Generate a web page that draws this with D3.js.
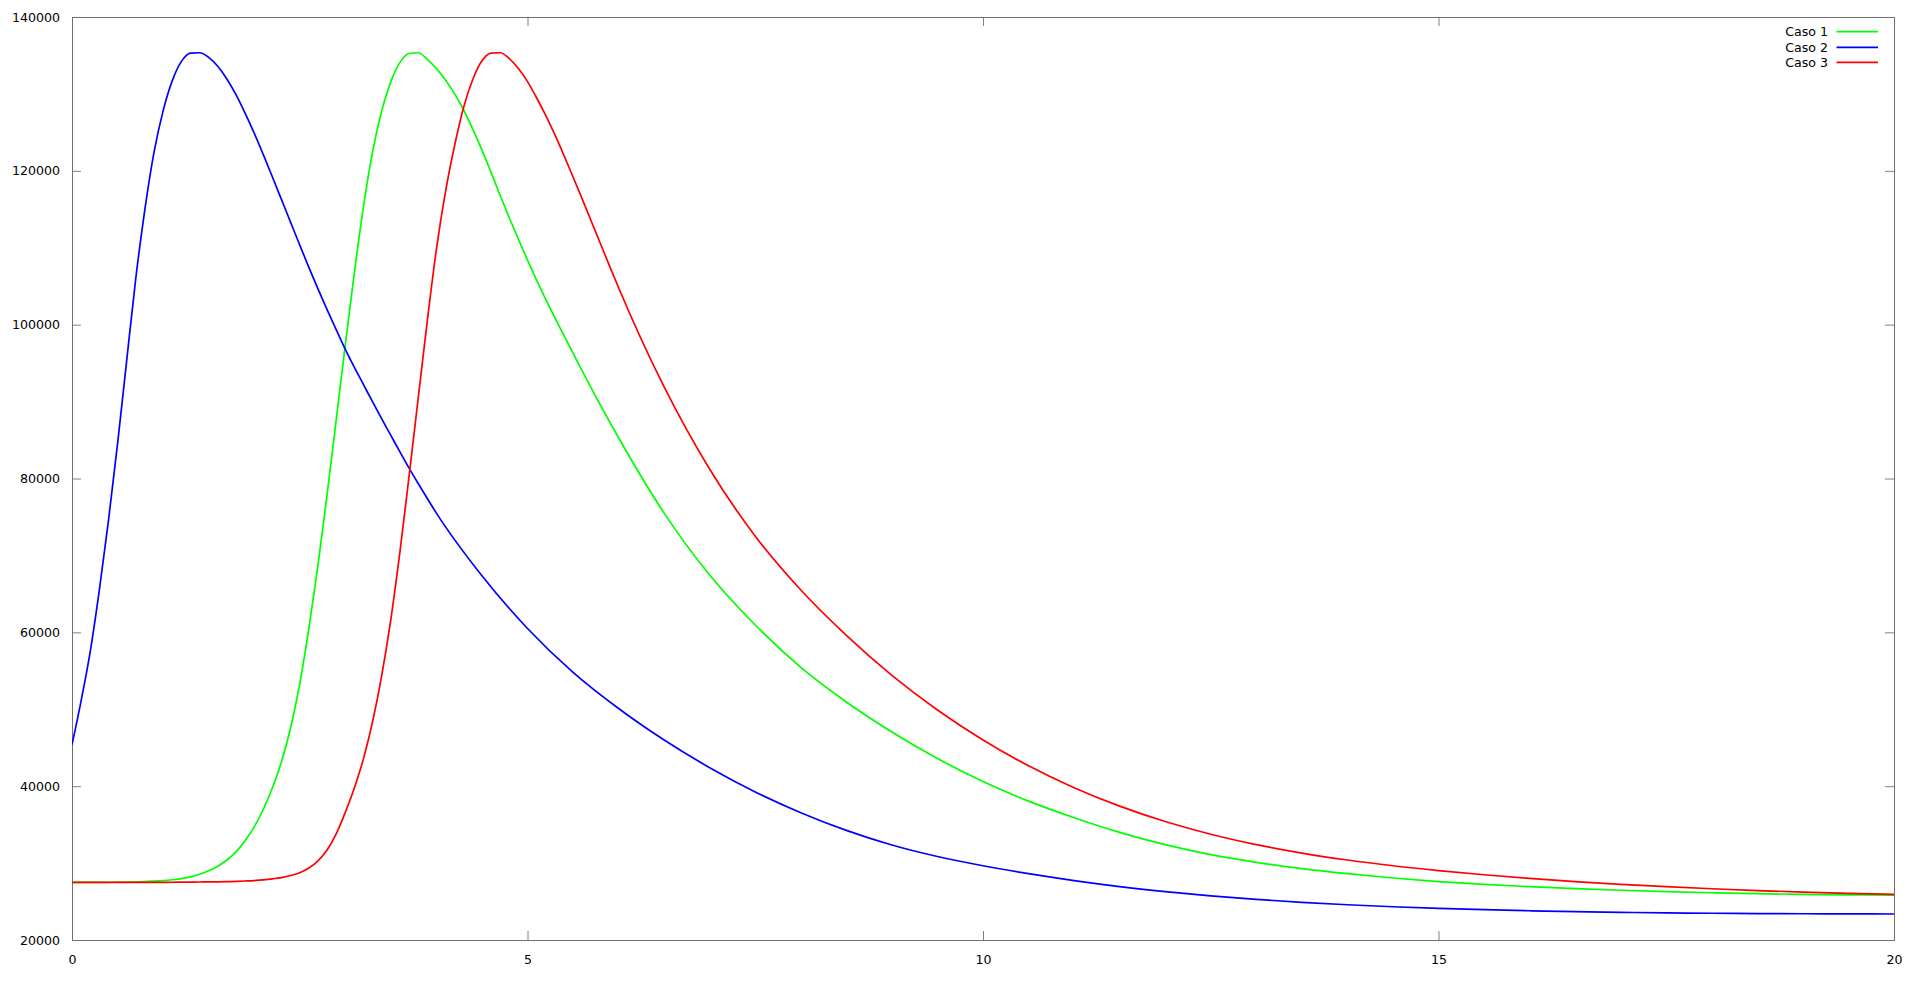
<!DOCTYPE html>
<html>
<head>
<meta charset="utf-8">
<script src="https://cdn.jsdelivr.net/npm/d3@7"></script>
<style>
  html, body { margin: 0; padding: 0; background: #fff; }
  svg { display: block; }
  text { font-family: "DejaVu Sans", sans-serif; }
</style>
</head>
<body>
<svg id="chart" width="1920" height="996"></svg>
<script>
// ---- Data ----
const seriesNames = ["Caso 1", "Caso 2", "Caso 3"];
const seriesColors = ["#00ff00", "#0000ff", "#ff0000"];

const xTicks = [0, 5, 10, 15, 20];
const yTicks = [20000, 40000, 60000, 80000, 100000, 120000, 140000];

// Caso 1 (green)
const caso1X = [0,0.1,0.2,0.3,0.4,0.5,0.6,0.7,0.8,0.9,1.0,1.1,1.2,1.3,1.4,1.5,1.6,1.7,1.8,1.9,
  2.0,2.1,2.2,2.3,2.4,2.5,2.6,2.7,2.8,2.9,3.0,3.1,3.2,3.3,3.4,3.5,3.6,3.7,3.8,3.9,
  4.0,4.1,4.2,4.3,4.4,4.5,4.6,4.7,4.8,4.9,5.0,5.1,5.2,5.3,5.4,5.5,5.6,5.7,5.8,5.9,6.0,
  6.5,7.0,7.5,8.0,8.5,9.0,9.5,10.0,10.5,11.0,11.5,12.0,12.5,13.0,13.5,14.0,14.5,15.0,
  15.5,16.0,16.5,17.0,17.5,18.0,18.5,19.0,19.5,20.0];
const caso1Y = [27500,27500,27500,27500,27505,27515,27530,27560,27600,27650,27720,27830,27980,28200,28550,29000,29600,30400,31450,32900,
  34700,37000,39800,43200,47600,53300,60500,68700,77900,87600,97400,106800,115400,122500,127800,131600,134100,135250,135350,134500,
  133300,131800,130000,127900,125400,122700,119800,116800,113900,111100,108400,105800,103300,100900,98600,96300,94000,91750,89550,87400,85300,
  75500,67450,60950,55450,50950,47050,43600,40600,38050,35900,34000,32400,31100,30100,29280,28620,28060,27600,
  27230,26930,26680,26470,26290,26140,26020,25930,25870,25840];

// Caso 2 (blue)
const caso2X = [0,0.1,0.2,0.3,0.4,0.5,0.6,0.7,0.8,0.9,1.0,1.1,1.2,1.3,1.4,1.5,1.6,1.7,1.8,1.9,
  2.0,2.1,2.2,2.3,2.4,2.5,2.6,2.7,2.8,2.9,3.0,3.1,3.2,3.3,3.4,3.5,3.6,3.7,3.8,3.9,4.0,
  4.5,5.0,5.5,6.0,6.5,7.0,7.5,8.0,8.5,9.0,9.5,10.0,10.5,11.0,11.5,12.0,12.5,13.0,13.5,14.0,14.5,15.0,
  15.5,16.0,16.5,17.0,17.5,18.0,18.5,19.0,19.5,20.0];
const caso2Y = [45400,51100,57500,65500,74500,84500,95300,106000,115000,122400,127800,131700,134200,135300,135350,134750,133600,131950,129900,127500,
  124900,122100,119200,116250,113300,110350,107450,104650,101950,99350,96800,94450,92200,89950,87750,85600,83450,81350,79350,77400,75500,
  67350,60500,54800,50100,46000,42400,39250,36550,34250,32350,30850,29650,28620,27720,26940,26290,25740,25280,24900,24580,24320,24110,
  23940,23800,23690,23600,23530,23480,23440,23410,23390,23380];

// Caso 3 (red)
const caso3X = [0,0.1,0.2,0.3,0.4,0.5,0.6,0.7,0.8,0.9,1.0,1.1,1.2,1.3,1.4,1.5,1.6,1.7,1.8,1.9,
  2.0,2.1,2.2,2.3,2.4,2.5,2.6,2.7,2.8,2.9,3.0,3.1,3.2,3.3,3.4,3.5,3.6,3.7,3.8,3.9,
  4.0,4.1,4.2,4.3,4.4,4.5,4.6,4.7,4.8,4.9,5.0,5.1,5.2,5.3,5.4,5.5,5.6,5.7,5.8,5.9,6.0,
  6.5,7.0,7.5,8.0,8.5,9.0,9.5,10.0,10.5,11.0,11.5,12.0,12.5,13.0,13.5,14.0,14.5,15.0,
  15.5,16.0,16.5,17.0,17.5,18.0,18.5,19.0,19.5,20.0];
const caso3Y = [27500,27500,27500,27500,27500,27500,27500,27500,27500,27500,27500,27510,27520,27530,27540,27550,27560,27590,27620,27670,
  27730,27820,27950,28120,28380,28750,29350,30300,31700,33800,36600,39800,43600,48400,54400,61700,70500,80300,90400,100500,
  109800,117300,123300,128300,131900,134300,135300,135350,134600,133300,131600,129500,127200,124700,122000,119200,116350,113450,110550,107650,104800,
  91900,81200,72500,65500,59600,54400,49900,46000,42650,39800,37400,35400,33750,32400,31300,30400,29650,29020,
  28480,28010,27600,27240,26930,26660,26430,26230,26060,25920];

// ---- Layout ----
const svg = d3.select("#chart");
const margin = { left: 72, right: 1920 - 1894, top: 17, bottom: 996 - 940 };
const W = 1920, H = 996;
const x = d3.scaleLinear().domain([0, 20]).range([margin.left, W - margin.right]);
const y = d3.scaleLinear().domain([20000, 140000]).range([H - margin.bottom, margin.top]);
const fontSize = 12.6;
const tickLen = 9;

svg.append("defs").append("clipPath").attr("id", "clip")
  .append("rect")
  .attr("x", x(0)).attr("y", y(140000))
  .attr("width", x(20) - x(0)).attr("height", y(20000) - y(140000));

// Axes (gnuplot style: inward ticks mirrored on all sides)
function styleAxis(g) {
  g.select(".domain").remove();
  g.selectAll(".tick line").attr("stroke", "#808080").attr("stroke-width", 1);
  g.selectAll(".tick text").attr("fill", "#000").style("font-size", fontSize + "px")
    .style("font-family", "'DejaVu Sans', sans-serif");
}

svg.append("g")
  .attr("transform", `translate(0,${y(20000)})`)
  .call(d3.axisBottom(x).tickValues(xTicks).tickFormat(d3.format("d")).tickSize(-tickLen).tickPadding(tickLen + 6))
  .call(styleAxis);

svg.append("g")
  .attr("transform", `translate(0,${y(140000)})`)
  .call(d3.axisTop(x).tickValues(xTicks).tickFormat("").tickSize(-tickLen))
  .call(styleAxis);

svg.append("g")
  .attr("transform", `translate(${x(0)},0)`)
  .call(d3.axisLeft(y).tickValues(yTicks).tickFormat(d3.format("d")).tickSize(-tickLen).tickPadding(tickLen + 3))
  .call(styleAxis);

svg.append("g")
  .attr("transform", `translate(${x(20)},0)`)
  .call(d3.axisRight(y).tickValues(yTicks).tickFormat("").tickSize(-tickLen))
  .call(styleAxis);

// Border
svg.append("rect")
  .attr("x", x(0) + 0.5).attr("y", y(140000) + 0.5)
  .attr("width", x(20) - x(0)).attr("height", y(20000) - y(140000))
  .attr("fill", "none").attr("stroke", "#707070").attr("stroke-width", 1);

// Lines
const seriesX = [caso1X, caso2X, caso3X];
const seriesY = [caso1Y, caso2Y, caso3Y];
const line = d3.line()
  .x(d => x(d[0]))
  .y(d => y(d[1]))
  .curve(d3.curveMonotoneX);

const plot = svg.append("g").attr("clip-path", "url(#clip)");
seriesNames.forEach((name, i) => {
  const pts = seriesX[i].map((xv, j) => [xv, seriesY[i][j]]);
  plot.append("path")
    .datum(pts)
    .attr("fill", "none")
    .attr("stroke", seriesColors[i])
    .attr("stroke-width", 1.7)
    .attr("stroke-linejoin", "round")
    .attr("d", line);
});

// Legend (top right, inside)
const legendTextRight = 1828;
const legendLineX1 = 1836.5, legendLineX2 = 1878;
const legendRowY = [31.7, 47.3, 62.3];
const legend = svg.append("g");
seriesNames.forEach((name, i) => {
  legend.append("text")
    .attr("x", legendTextRight)
    .attr("y", legendRowY[i])
    .attr("text-anchor", "end")
    .attr("dominant-baseline", "central")
    .style("font-size", fontSize + "px")
    .attr("fill", "#000")
    .text(name);
  legend.append("line")
    .attr("x1", legendLineX1).attr("x2", legendLineX2)
    .attr("y1", legendRowY[i]).attr("y2", legendRowY[i])
    .attr("stroke", seriesColors[i]).attr("stroke-width", 1.7);
});
</script>
</body>
</html>
